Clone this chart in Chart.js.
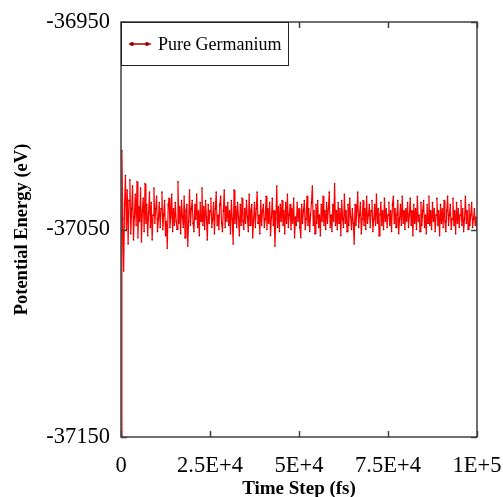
<!DOCTYPE html>
<html>
<head>
<meta charset="utf-8">
<script src="https://cdn.jsdelivr.net/npm/chart.js@4.4.1/dist/chart.umd.min.js"></script>
<style>
  html, body { margin: 0; padding: 0; background: #fff; }
  canvas { display: block; }
</style>
</head>
<body>
<canvas id="myChart" width="503" height="497"></canvas>
<script>
  "use strict";

  const seriesLabel = "Pure Germanium";

  // time steps (fs)
  const timeSteps = [
    0, 250, 500, 750, 1000, 1250, 1500, 1750, 2000, 2250, 2500, 2750, 3000, 3250, 3500, 3750, 4000, 4250, 4500, 4750,
    5000, 5250, 5500, 5750, 6000, 6250, 6500, 6750, 7000, 7250, 7500, 7750, 8000, 8250, 8500, 8750, 9000, 9250, 9500, 9750,
    10000, 10250, 10500, 10750, 11000, 11250, 11500, 11750, 12000, 12250, 12500, 12750, 13000, 13250, 13500, 13750, 14000, 14250, 14500, 14750,
    15000, 15250, 15500, 15750, 16000, 16250, 16500, 16750, 17000, 17250, 17500, 17750, 18000, 18250, 18500, 18750, 19000, 19250, 19500, 19750,
    20000, 20250, 20500, 20750, 21000, 21250, 21500, 21750, 22000, 22250, 22500, 22750, 23000, 23250, 23500, 23750, 24000, 24250, 24500, 24750,
    25000, 25250, 25500, 25750, 26000, 26250, 26500, 26750, 27000, 27250, 27500, 27750, 28000, 28250, 28500, 28750, 29000, 29250, 29500, 29750,
    30000, 30250, 30500, 30750, 31000, 31250, 31500, 31750, 32000, 32250, 32500, 32750, 33000, 33250, 33500, 33750, 34000, 34250, 34500, 34750,
    35000, 35250, 35500, 35750, 36000, 36250, 36500, 36750, 37000, 37250, 37500, 37750, 38000, 38250, 38500, 38750, 39000, 39250, 39500, 39750,
    40000, 40250, 40500, 40750, 41000, 41250, 41500, 41750, 42000, 42250, 42500, 42750, 43000, 43250, 43500, 43750, 44000, 44250, 44500, 44750,
    45000, 45250, 45500, 45750, 46000, 46250, 46500, 46750, 47000, 47250, 47500, 47750, 48000, 48250, 48500, 48750, 49000, 49250, 49500, 49750,
    50000, 50250, 50500, 50750, 51000, 51250, 51500, 51750, 52000, 52250, 52500, 52750, 53000, 53250, 53500, 53750, 54000, 54250, 54500, 54750,
    55000, 55250, 55500, 55750, 56000, 56250, 56500, 56750, 57000, 57250, 57500, 57750, 58000, 58250, 58500, 58750, 59000, 59250, 59500, 59750,
    60000, 60250, 60500, 60750, 61000, 61250, 61500, 61750, 62000, 62250, 62500, 62750, 63000, 63250, 63500, 63750, 64000, 64250, 64500, 64750,
    65000, 65250, 65500, 65750, 66000, 66250, 66500, 66750, 67000, 67250, 67500, 67750, 68000, 68250, 68500, 68750, 69000, 69250, 69500, 69750,
    70000, 70250, 70500, 70750, 71000, 71250, 71500, 71750, 72000, 72250, 72500, 72750, 73000, 73250, 73500, 73750, 74000, 74250, 74500, 74750,
    75000, 75250, 75500, 75750, 76000, 76250, 76500, 76750, 77000, 77250, 77500, 77750, 78000, 78250, 78500, 78750, 79000, 79250, 79500, 79750,
    80000, 80250, 80500, 80750, 81000, 81250, 81500, 81750, 82000, 82250, 82500, 82750, 83000, 83250, 83500, 83750, 84000, 84250, 84500, 84750,
    85000, 85250, 85500, 85750, 86000, 86250, 86500, 86750, 87000, 87250, 87500, 87750, 88000, 88250, 88500, 88750, 89000, 89250, 89500, 89750,
    90000, 90250, 90500, 90750, 91000, 91250, 91500, 91750, 92000, 92250, 92500, 92750, 93000, 93250, 93500, 93750, 94000, 94250, 94500, 94750,
    95000, 95250, 95500, 95750, 96000, 96250, 96500, 96750, 97000, 97250, 97500, 97750, 98000, 98250, 98500, 98750, 99000, 99250, 99500, 99750,
    100000
  ];

  // potential energy (eV)
  const energy = [
    -37150, -37012, -37045, -37070, -37038, -37024, -37050, -37031, -37057, -37036, -37026, -37052, -37040, -37029, -37055, -37044, -37033, -37048, -37027, -37054,
    -37039, -37046, -37030, -37056, -37041, -37035, -37051, -37028, -37047, -37038, -37053, -37042, -37032, -37049, -37037, -37055, -37043, -37030, -37047, -37040,
    -37034, -37051, -37045, -37037, -37049, -37040, -37032, -37050, -37043, -37036, -37053, -37046, -37059, -37038, -37035, -37049, -37044, -37033, -37051, -37040,
    -37048, -37037, -37046, -37050, -37027, -37047, -37039, -37052, -37036, -37044, -37049, -37034, -37054, -37041, -37038, -37058, -37046, -37031, -37048, -37040,
    -37036, -37047, -37051, -37038, -37045, -37033, -37049, -37041, -37053, -37037, -37046, -37030, -37048, -37039, -37050, -37036, -37044, -37055, -37038, -37047,
    -37041, -37035, -37049, -37045, -37037, -37052, -37040, -37032, -37048, -37043, -37050, -37038, -37034, -37047, -37051, -37041, -37031, -37049, -37039, -37046,
    -37037, -37048, -37041, -37052, -37036, -37045, -37057, -37031, -37047, -37039, -37049, -37037, -37044, -37053, -37038, -37048, -37035, -37046, -37050, -37040,
    -37047, -37036, -37044, -37051, -37033, -37048, -37041, -37038, -37054, -37045, -37037, -37049, -37040, -37032, -37047, -37043, -37052, -37036, -37048, -37041,
    -37038, -37049, -37045, -37034, -37050, -37040, -37047, -37037, -37053, -37044, -37035, -37048, -37041, -37058, -37045, -37029, -37049, -37039, -37051, -37038,
    -37046, -37036, -37048, -37041, -37052, -37037, -37047, -37033, -37049, -37043, -37038, -37050, -37040, -37047, -37035, -37054, -37044, -37048, -37037, -37046,
    -37040, -37049, -37054, -37038, -37047, -37041, -37036, -37050, -37045, -37034, -37048, -37040, -37051, -37043, -37037, -37029, -37048, -37041, -37052, -37038,
    -37047, -37036, -37049, -37043, -37053, -37038, -37046, -37034, -37048, -37041, -37050, -37037, -37047, -37040, -37032, -37049, -37043, -37051, -37038, -37046,
    -37028, -37048, -37041, -37050, -37037, -37047, -37040, -37053, -37036, -37045, -37049, -37033, -37047, -37041, -37051, -37038, -37048, -37035, -37044, -37050,
    -37040, -37047, -37057, -37038, -37048, -37041, -37032, -37049, -37043, -37037, -37052, -37045, -37036, -37048, -37040, -37050, -37034, -37047, -37043, -37038,
    -37049, -37041, -37036, -37051, -37045, -37038, -37048, -37033, -37047, -37040, -37053, -37043, -37037, -37048, -37041, -37050, -37035, -37046, -37040, -37049,
    -37043, -37037, -37048, -37041, -37051, -37038, -37034, -37047, -37040, -37049, -37043, -37036, -37052, -37045, -37038, -37048, -37034, -37047, -37041, -37050,
    -37040, -37046, -37037, -37049, -37043, -37035, -37048, -37041, -37053, -37038, -37047, -37040, -37050, -37034, -37046, -37043, -37051, -37037, -37048, -37041,
    -37036, -37049, -37043, -37052, -37038, -37047, -37034, -37048, -37041, -37050, -37037, -37046, -37040, -37051, -37043, -37035, -37048, -37041, -37053, -37038,
    -37047, -37040, -37049, -37036, -37046, -37051, -37041, -37034, -37048, -37043, -37038, -37050, -37045, -37035, -37048, -37041, -37052, -37037, -37047, -37040,
    -37049, -37043, -37036, -37048, -37040, -37051, -37045, -37034, -37047, -37041, -37050, -37038, -37048, -37043, -37037, -37049, -37045, -37040, -37048, -37044,
    -37050
  ];

  const xTickValues = [0, 25000, 50000, 75000, 100000];
  const xTickLabels = ["0", "2.5E+4", "5E+4", "7.5E+4", "1E+5"];
  const yTickValues = [-37150, -37050, -36950];
  const yTickLabels = ["-37150", "-37050", "-36950"];

  const serif = "'Liberation Serif', 'Times New Roman', serif";

  // frame, inner ticks and boxed legend
  const framePlugin = {
    id: "frame",
    afterDatasetsDraw: function (chart) {
      const ctx = chart.ctx, a = chart.chartArea;
      const xs = chart.scales.x, ys = chart.scales.y;
      ctx.save();
      ctx.strokeStyle = "#404040";
      ctx.lineWidth = 1.5;
      ctx.strokeRect(a.left, a.top, a.right - a.left, a.bottom - a.top);
      ctx.beginPath();
      xTickValues.forEach(v => {
        const px = Math.round(xs.getPixelForValue(v)) + 0.5;
        ctx.moveTo(px, a.bottom); ctx.lineTo(px, a.bottom - 6);
        ctx.moveTo(px, a.top); ctx.lineTo(px, a.top + 6);
      });
      yTickValues.forEach(v => {
        const py = Math.round(ys.getPixelForValue(v)) + 0.5;
        ctx.moveTo(a.left, py); ctx.lineTo(a.left + 6, py);
        ctx.moveTo(a.right, py); ctx.lineTo(a.right - 6, py);
      });
      ctx.stroke();

      // legend
      const lx = a.left, ly = a.top, lw = 167, lh = 43;
      ctx.fillStyle = "#fff";
      ctx.fillRect(lx, ly, lw, lh);
      ctx.strokeStyle = "#222";
      ctx.lineWidth = 1;
      ctx.strokeRect(lx + 0.5, ly + 0.5, lw, lh);
      const cy = ly + 22;
      ctx.strokeStyle = "#b00000";
      ctx.lineWidth = 1.5;
      ctx.beginPath();
      ctx.moveTo(lx + 8, cy); ctx.lineTo(lx + 30, cy);
      ctx.stroke();
      ctx.fillStyle = "#9b0000";
      [lx + 11, lx + 26].forEach(px => {
        ctx.beginPath(); ctx.arc(px, cy, 2, 0, Math.PI * 2); ctx.fill();
      });
      ctx.fillStyle = "#000";
      ctx.font = "18px " + serif;
      ctx.textBaseline = "middle";
      ctx.textAlign = "left";
      ctx.fillText(seriesLabel, lx + 37, cy + 1);
      ctx.restore();
    }
  };

  const points = timeSteps.map((t, i) => ({ x: t, y: energy[i] }));

  new Chart(document.getElementById("myChart"), {
    type: "line",
    data: {
      datasets: [{
        label: seriesLabel,
        data: points,
        borderColor: "#ff0000",
        borderWidth: 1.2,
        pointRadius: 0.8,
        pointBorderWidth: 0,
        pointBackgroundColor: "#8b0000",
        tension: 0
      }]
    },
    options: {
      responsive: false,
      animation: false,
      devicePixelRatio: 1,
      layout: { padding: { top: 22, right: 26, left: 0, bottom: 0 } },
      plugins: { legend: { display: false }, tooltip: { enabled: false } },
      scales: {
        x: {
          type: "linear",
          min: 0,
          max: 100000,
          afterBuildTicks: s => { s.ticks = xTickValues.map(v => ({ value: v })); },
          afterFit: s => { s.height = 60; s.paddingLeft = 0; s.paddingRight = 0; },
          grid: { display: false, drawTicks: false },
          border: { display: false },
          ticks: {
            padding: 16,
            color: "#000",
            font: { family: serif, size: 22.5 },
            maxRotation: 0,
            callback: v => xTickLabels[xTickValues.indexOf(v)]
          },
          title: {
            display: true,
            text: "Time Step (fs)",
            color: "#000",
            font: { family: serif, size: 19, weight: "bold" },
            padding: { top: 0, bottom: -3 }
          }
        },
        y: {
          type: "linear",
          min: -37150,
          max: -36950,
          afterBuildTicks: s => { s.ticks = yTickValues.map(v => ({ value: v })); },
          afterFit: s => { s.width = 121; s.paddingTop = 0; s.paddingBottom = 0; },
          grid: { display: false, drawTicks: false },
          border: { display: false },
          ticks: {
            padding: 11,
            color: "#000",
            font: { family: serif, size: 22.5 },
            callback: v => yTickLabels[yTickValues.indexOf(v)]
          },
          title: {
            display: true,
            text: "Potential Energy (eV)",
            color: "#000",
            font: { family: serif, size: 18.5, weight: "bold" },
            padding: { top: 11, bottom: 0 }
          }
        }
      }
    },
    plugins: [framePlugin]
  });
</script>
</body>
</html>
